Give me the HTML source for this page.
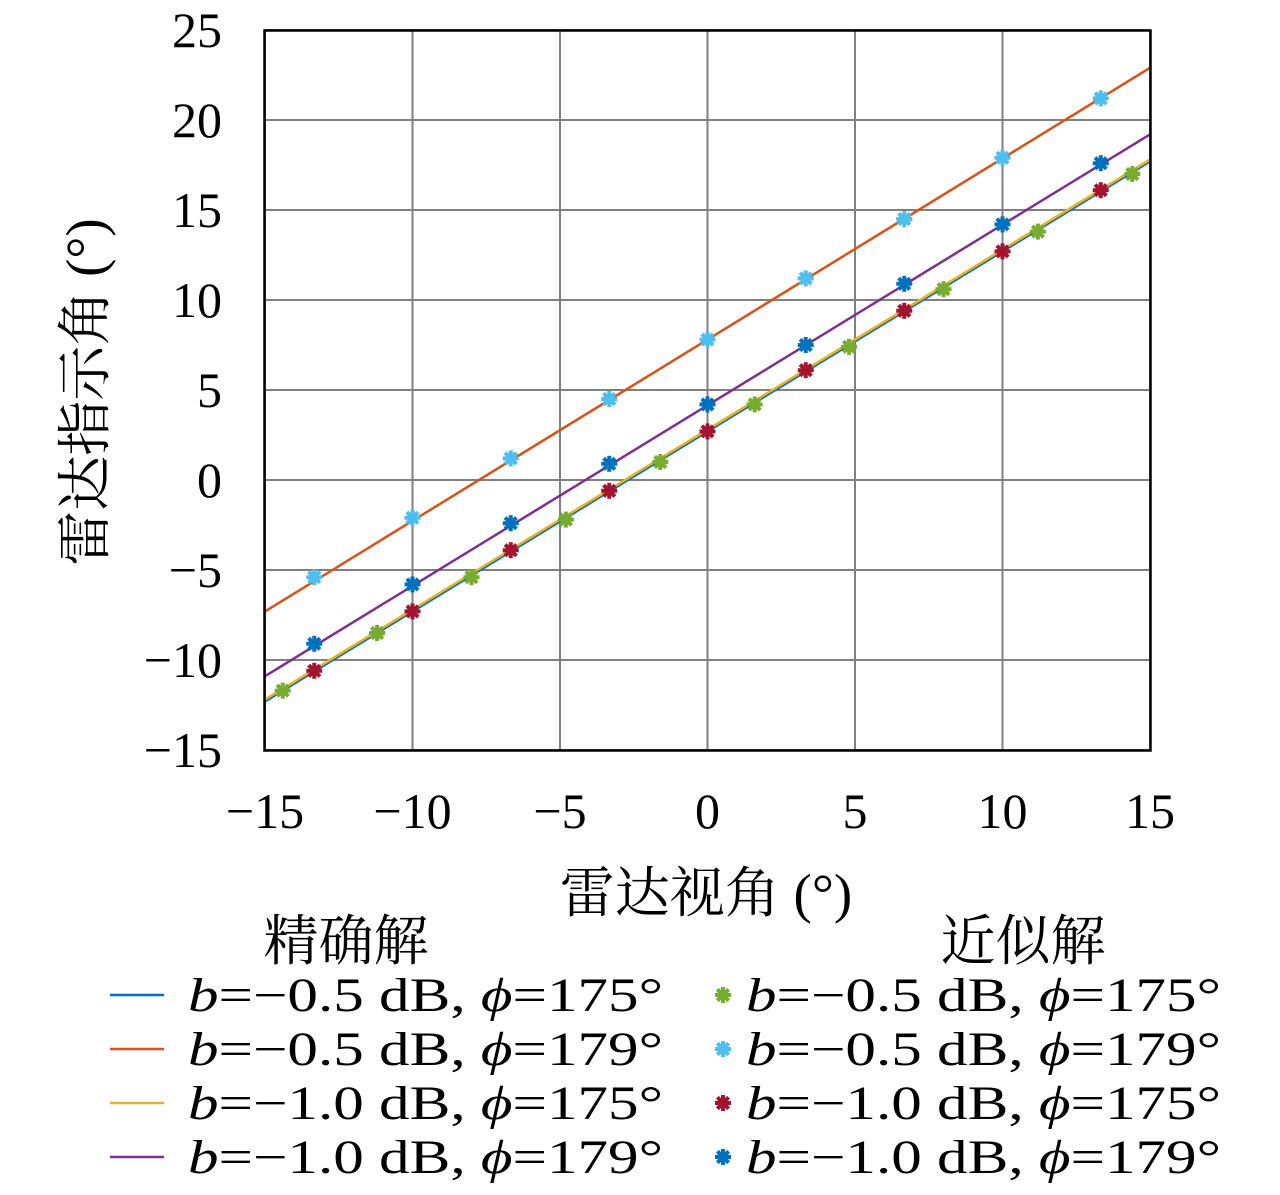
<!DOCTYPE html>
<html><head><meta charset="utf-8"><style>
body{margin:0;background:#fff}
svg text{font-family:"Liberation Serif","Noto Serif CJK SC",serif;fill:#000}
</style></head><body>
<svg width="1280" height="1190" viewBox="0 0 1280 1190">
<g id="grid"></g>
<g id="lines"></g>
<g id="marks"></g>
<rect x="264.5" y="30.5" width="886" height="720" fill="none" stroke="#000" stroke-width="2.5"/>
<g id="ticks"></g>
<text x="706" y="912" font-size="55" text-anchor="middle">雷达视角 (°)</text>
<text transform="translate(104,392) rotate(-90)" font-size="55" text-anchor="middle">雷达指示角 (°)</text>
<text x="346" y="960" font-size="55" text-anchor="middle">精确解</text>
<text x="1023" y="960" font-size="55" text-anchor="middle">近似解</text>
<g id="legend"></g>
</svg>
<script>
const xTicks=[-15,-10,-5,0,5,10,15];
const yTicks=[-15,-10,-5,0,5,10,15,20,25];
const lineX=[-15,15];
const lineB05_175=[-12.3,17.7];
const lineB05_179=[-7.3,22.9];
const lineB10_175=[-12.2,17.8];
const lineB10_179=[-10.9,19.2];
const ptsXGreen=[-14.4,-11.2,-8,-4.8,-1.6,1.6,4.8,8,11.2,14.4];
const ptsYGreen=[-11.7,-8.5,-5.4,-2.2,1.0,4.2,7.4,10.6,13.8,17.0];
const ptsX=[-13.33,-10,-6.67,-3.33,0,3.33,6.67,10,13.33];
const ptsYLight=[-5.4,-2.1,1.2,4.5,7.8,11.2,14.5,17.9,21.2];
const ptsYRed=[-10.6,-7.3,-3.9,-0.6,2.7,6.1,9.4,12.7,16.1];
const ptsYDark=[-9.1,-5.8,-2.4,0.9,4.2,7.5,10.9,14.2,17.6];
const labels=["b=\u22120.5 dB, ϕ=175°","b=\u22120.5 dB, ϕ=179°","b=\u22121.0 dB, ϕ=175°","b=\u22121.0 dB, ϕ=179°"];
const NS="http://www.w3.org/2000/svg";
const sx=v=>265+(v+15)*885/30, sy=v=>750-(v+15)*18;
function mk(t,a,p){const e=document.createElementNS(NS,t);for(const k in a)e.setAttribute(k,a[k]);p.appendChild(e);return e;}
const G=document.getElementById('grid'),T=document.getElementById('ticks');
xTicks.forEach(v=>{const l=mk('line',{x1:sx(v),x2:sx(v),y1:30,y2:750,stroke:'#808080','stroke-width':2},G);


const t=mk('text',{x:sx(v),y:828,'font-size':50,'text-anchor':'middle'},T);t.textContent=v<0?'\u2212'+(-v):v;

});
yTicks.forEach(v=>{const l=mk('line',{x1:265,x2:1150,y1:sy(v),y2:sy(v),stroke:'#808080','stroke-width':2},G);


const t=mk('text',{x:222,y:sy(v)+17,'font-size':50,'text-anchor':'end'},T);t.textContent=v<0?'\u2212'+(-v):v;

});
const L=document.getElementById('lines');
const lines=[[lineB05_175,'#0072bd'],[lineB10_175,'#edb120'],[lineB05_179,'#d95319'],[lineB10_179,'#7e2f8e']];
lines.forEach(([ys,c])=>{const l=mk('line',{x1:sx(lineX[0]),y1:sy(ys[0]),x2:sx(lineX[1]),y2:sy(ys[1]),stroke:c,'stroke-width':2.5},L);

});
function star(x,y,c,p){const g=mk('g',{},p);for(let i=0;i<4;i++){const a=i*Math.PI/4,dx=8*Math.cos(a),dy=8*Math.sin(a);mk('line',{x1:x-dx,y1:y-dy,x2:x+dx,y2:y+dy,stroke:c,'stroke-width':4},g);}mk('circle',{cx:x,cy:y,r:5,fill:c},g);return g;}
const M=document.getElementById('marks');
const sets=[[ptsXGreen,ptsYGreen,'#77ac30'],[ptsX,ptsYLight,'#4dbeee'],[ptsX,ptsYRed,'#a2142f'],[ptsX,ptsYDark,'#0072bd']];
sets.forEach(([xs,ys,c])=>xs.forEach((x,i)=>{const g=star(sx(x),sy(ys[i]),c,M);

}));
const LG=document.getElementById('legend');
const lc=['#0072bd','#d95319','#edb120','#7e2f8e'],mc=['#77ac30','#4dbeee','#a2142f','#0072bd'];
function lab(x,y,s){const t=mk('text',{x:x,y:y,'font-size':48,textLength:475,lengthAdjust:'spacingAndGlyphs'},LG);
const p=s.split(/(b|ϕ)/);p.forEach(q=>{const ts=document.createElementNS(NS,'tspan');if(q==='b'||q==='ϕ')ts.setAttribute('font-style','italic');ts.textContent=q;t.appendChild(ts);});return t;}
labels.forEach((s,i)=>{const y=995+i*54;
const l=mk('line',{x1:110,x2:164,y1:y,y2:y,stroke:lc[i],'stroke-width':2.5},LG);


const t1=lab(188,y+16,s);


const g=star(723,y,mc[i],LG);


const t2=lab(746,y+16,s);

});
</script>
</body></html>
